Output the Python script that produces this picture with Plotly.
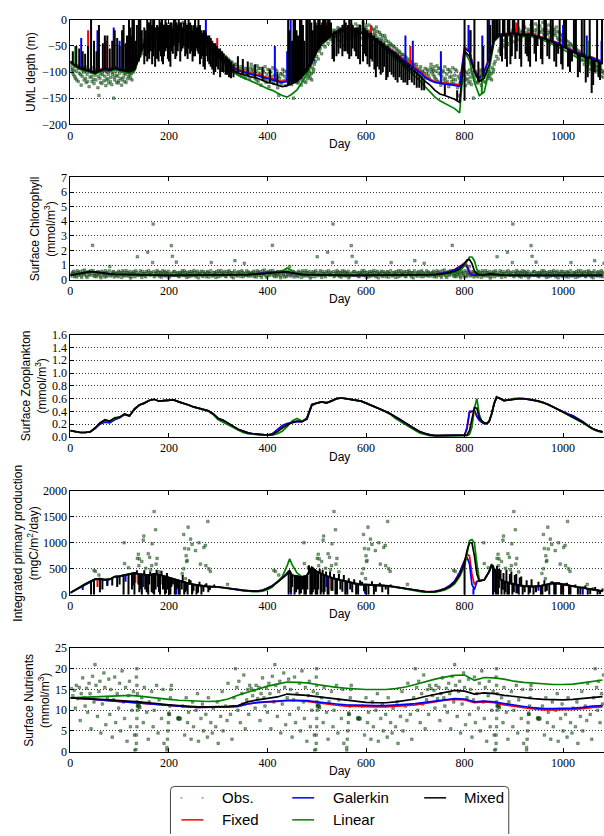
import plotly.graph_objects as go

W, H = 604, 836
DAY_MAX = 1083
AXIS_LEFT_PX = 67.7

# ---------------- Panel 1: upper mixed layer depth (m) ----------------
depth_days = list(range(0, 1081, 10))
depth_mixed = [
    -80, -88, -93, -96, -98, -102, -98, -95, -97, -93,
    -96, -98, -100, -95, -70, -45, -38, -35, -32, -28,
    -25, -22, -20, -22, -25, -28, -32, -38, -48, -58,
    -68, -78, -88, -97, -102, -105, -108, -110, -112, -116,
    -120, -122, -125, -128, -126, -122, -118, -108, -98, -80,
    -60, -45, -38, -30, -25, -20, -18, -20, -22, -25,
    -28, -33, -40, -47, -55, -62, -70, -78, -86, -94,
    -100, -108, -118, -125, -135, -142, -145, -148, -152, -158,
    -60, -70, -100, -118, -112, -85, -40, -30, -30, -28,
    -26, -28, -30, -28, -30, -33, -36, -40, -43, -47,
    -52, -57, -62, -66, -70, -72, -76, -80, -85,
]
depth_galerkin = [
    -80, -88, -92, -95, -97, -100, -96, -94, -95, -91,
    -95, -96, -98, -93, -68, -45, -38, -34, -30, -27,
    -24, -21, -19, -21, -24, -27, -30, -36, -45, -55,
    -65, -74, -84, -92, -97, -100, -103, -105, -107, -110,
    -113, -115, -118, -120, -118, -116, -112, -104, -95, -78,
    -58, -44, -37, -29, -24, -19, -17, -19, -21, -24,
    -27, -31, -37, -44, -51, -58, -65, -72, -80, -88,
    -94, -101, -110, -116, -120, -122, -123, -124, -125, -127,
    -55, -62, -98, -112, -100, -75, -35, -28, -28, -27,
    -25, -27, -29, -27, -29, -32, -35, -38, -41, -45,
    -50, -55, -60, -63, -67, -70, -73, -77, -82,
]
depth_fixed = [
    -79, -87, -91, -94, -96, -99, -95, -93, -94, -90,
    -94, -95, -97, -92, -67, -44, -37, -33, -29, -26,
    -23, -20, -18, -20, -23, -26, -29, -35, -44, -54,
    -63, -72, -82, -90, -95, -98, -101, -103, -105, -108,
    -111, -113, -116, -118, -116, -114, -110, -102, -93, -76,
    -57, -43, -36, -28, -23, -18, -16, -18, -20, -23,
    -26, -30, -36, -43, -50, -57, -64, -71, -79, -86,
    -92, -99, -108, -114, -118, -120, -121, -122, -123, -124,
    -52, -60, -95, -110, -98, -72, -34, -27, -27, -26,
    -24, -26, -28, -26, -28, -31, -34, -37, -40, -44,
    -49, -54, -59, -62, -66, -69, -72, -76, -80,
]
depth_linear = [
    -82, -90, -95, -98, -100, -104, -100, -98, -99, -95,
    -98, -100, -103, -98, -72, -48, -40, -36, -32, -29,
    -26, -23, -21, -23, -27, -30, -34, -40, -50, -60,
    -70, -80, -91, -100, -106, -110, -114, -118, -122, -127,
    -132, -135, -140, -145, -148, -142, -134, -120, -105, -85,
    -62, -47, -40, -31, -26, -21, -19, -21, -23, -26,
    -30, -35, -42, -50, -58, -66, -74, -83, -92, -100,
    -108, -117, -128, -138, -148, -155, -160, -165, -170, -178,
    -62, -78, -120, -145, -138, -95, -42, -32, -31, -30,
    -28, -30, -32, -30, -32, -35, -39, -43, -47, -52,
    -57, -63, -68, -73, -78, -82, -86, -90, -96,
]
# short mixing / restratification events: (day, from depth, to depth)
depth_mixed_spikes = [
    (5, -84, -60), (12, -90, -50), (18, -92, -55), (25, -95, -60), (30, -96, -65),
    (36, -97, -50), (42, -98, 0), (48, -100, -40), (53, -101, -60), (58, -100, -10),
    (66, -96, -45), (70, -95, -30), (75, -96, -30), (80, -96, -55), (85, -95, -40),
    (90, -93, -20), (95, -94, -35), (100, -96, -50), (105, -97, -20), (108, -97, -10),
    (112, -98, -45), (115, -98, -30), (119, -99, 0), (122, -100, -15), (126, -99, 0),
    (129, -97, 0), (132, -95, -40), (135, -85, -10), (139, -80, 0), (142, -72, 0),
    (145, -60, -20), (150, -15, -85), (153, -20, -70), (156, 0, -80), (158, -5, -65),
    (160, -10, -75), (163, 0, -60), (166, -10, -85), (168, 0, -70), (170, 0, -55),
    (172, -15, -90), (176, -10, -75), (179, -15, -80), (181, 0, -60), (184, -5, -70),
    (186, 0, -80), (188, -15, -85), (190, -10, -70), (193, 0, -60), (195, -5, -55),
    (198, -10, -75), (200, -10, -80), (203, -5, -90), (205, -5, -60), (208, -15, -65),
    (210, 0, -50), (213, 0, -75), (215, -5, -70), (218, -10, -60), (220, 0, -45),
    (223, -5, -80), (225, -5, -60), (228, -15, -55), (230, -5, -50), (233, 0, -70),
    (235, -10, -65), (238, -10, -75), (240, 0, -55), (243, -5, -65), (245, -10, -60),
    (248, -20, -80), (250, -10, -70), (253, 0, -70), (255, -15, -55), (258, -15, -60),
    (260, 0, -65), (263, -10, -85), (265, -20, -75), (268, -25, -70), (270, -20, -90),
    (273, -20, -95), (275, -25, -70), (279, -30, -80), (282, -30, -85), (285, -35, -90),
    (288, -40, -95), (291, -45, -105), (294, -45, -100), (297, -50, -90), (300, -55, -95),
    (304, -55, -110), (308, -60, -100), (311, -65, -100), (315, -70, -105), (318, -72, -105),
    (322, -75, -110), (326, -80, -112), (331, -85, -110), (340, -100, -70), (350, -104, -75),
    (360, -107, -80), (375, -111, -85), (390, -115, -90), (405, -120, -95), (420, -125, -100),
    (442, -126, 0), (445, -124, -20), (450, -122, -40), (453, -120, 0), (456, -120, 0),
    (459, -117, -20), (462, -116, -30), (466, -114, 0), (469, -112, 0), (472, -108, -10),
    (475, -104, -40), (479, -100, 0), (482, -95, 0), (486, -90, 0), (489, -85, -5),
    (492, -78, -20), (496, -70, 0), (498, -66, -5), (501, -60, -10), (503, -58, 0),
    (506, -55, 0), (508, -50, -10), (511, -45, -5), (513, -44, 0), (516, -42, 0),
    (518, -40, 0), (521, -38, -10), (523, -36, 0), (526, -35, 0), (529, -30, -5),
    (532, -25, -75), (535, -22, -80), (540, -20, -70), (544, -18, -65), (548, -15, -55),
    (552, -10, -70), (556, 0, -60), (559, -5, -60), (563, -10, -65), (566, 0, -75),
    (570, 0, -70), (573, -10, -55), (577, -15, -60), (580, -15, -70), (584, -15, -75),
    (588, -10, -85), (594, 0, -80), (597, -15, -65), (600, -20, -70), (603, -20, -85),
    (607, -25, -90), (610, -25, -75), (613, -30, -80), (617, -30, -95), (620, -35, -110),
    (623, -35, -90), (627, -40, -95), (630, -40, -105), (634, -45, -100), (637, -45, -90),
    (641, -50, -115), (644, -50, -110), (648, -55, -100), (652, -58, -105), (656, -60, -110),
    (660, -62, -115), (664, -65, -120), (668, -70, -110), (672, -75, -115), (676, -78, -120),
    (680, -80, -120), (684, -82, -125), (688, -85, -115), (693, -90, -120), (698, -95, -125),
    (703, -100, -130), (708, -105, -130), (713, -110, -135), (718, -115, -135), (760, -145, -125),
    (785, -155, -135), (800, -155, 0), (812, -70, -20), (820, -100, 0), (828, -118, -80),
    (838, -110, -50), (847, -80, 0), (852, -65, -10), (857, -45, 0), (860, -40, 0),
    (864, -35, 0), (867, -33, 0), (871, -30, 0), (873, -30, -70), (876, -30, -80),
    (878, -30, 0), (881, -30, 0), (883, -30, -75), (886, -30, -90), (888, -29, 0),
    (891, -28, 0), (893, -28, -85), (896, -28, -70), (898, -27, 0), (901, -26, 0),
    (903, -26, -75), (906, -27, -60), (909, -27, 0), (912, -28, -75), (915, -29, -90),
    (918, -30, 0), (921, -30, 0), (924, -30, -65), (927, -29, -70), (930, -28, -80),
    (933, -28, -90), (935, -28, 0), (938, -29, 0), (942, -30, -65), (945, -31, -80),
    (948, -32, -50), (951, -33, 0), (955, -34, -75), (958, -35, -85), (962, -36, 0),
    (965, -37, 0), (968, -38, -70), (972, -39, -75), (975, -40, 0), (979, -42, 0),
    (982, -44, -80), (986, -45, -90), (990, -47, -65), (993, -48, 0), (996, -49, -85),
    (999, -50, -95), (1002, -52, 0), (1006, -55, 0), (1010, -57, -90), (1014, -59, -100),
    (1018, -61, -80), (1022, -62, 0), (1026, -64, 0), (1030, -66, -110), (1034, -68, -100),
    (1038, -69, 0), (1043, -71, 0), (1046, -71, -120), (1050, -72, -110), (1054, -73, 0),
    (1058, -75, -140), (1061, -77, -125), (1064, -78, -100), (1069, -79, 0), (1072, -80, -110),
    (1075, -82, -115), (1079, -84, 0),
]
depth_galerkin_spikes = [
    (22, -92, -35), (55, -100, -20), (88, -95, -15), (100, -96, -40), (125, -98, -30),
    (160, -40, -5), (275, -40, 0), (415, -118, -50), (440, -120, -60), (447, -118, 0),
    (495, -80, 0), (510, -45, -10), (680, -82, -30), (695, -92, -40), (752, -122, -60),
    (808, -60, -10), (836, -108, -30), (850, -80, 0), (880, -28, 0), (1000, -50, -10),
    (1048, -70, -30), (1078, -82, -40),
]
depth_fixed_spikes = [
    (36, -95, -20), (72, -94, -40), (298, -63, -35), (470, -102, -50), (520, -36, -5),
    (610, -30, -10), (690, -88, -50), (812, -62, -20), (905, -26, -5), (1000, -49, -20),
]
depth_linear_spikes = [
    (10, -90, -50), (480, -105, -30), (1050, -82, -40), (835, -142, -100),
]
# one annual cycle of observed depths; the record repeats each year
depth_obs_year = [
    (2, -85), (4, -95), (6, -105), (8, -90), (10, -112), (12, -98), (14, -88), (16, -118),
    (18, -102), (20, -93), (22, -125), (24, -108), (26, -97), (28, -115), (30, -90), (32, -120),
    (34, -104), (36, -95), (38, -128), (40, -110), (42, -100), (44, -118), (46, -92), (48, -122),
    (50, -106), (52, -115), (54, -98), (56, -130), (58, -145), (60, -112), (62, -103), (64, -122),
    (66, -95), (68, -117), (70, -108), (72, -126), (74, -100), (76, -113), (78, -121), (80, -96),
    (82, -110), (84, -124), (86, -104), (88, -150), (90, -115), (92, -99), (94, -120), (96, -108),
    (98, -117), (100, -102), (102, -112), (104, -125), (106, -97), (108, -110), (110, -118),
    (112, -104), (114, -95), (116, -113), (118, -108), (120, -99), (122, -112), (124, -103),
    (126, -92), (128, -100), (130, -85), (132, -80), (135, -70), (138, -75), (140, -60),
    (142, -55), (145, -65), (148, -48), (150, -40), (152, -52), (155, -35), (158, -45), (160, -30),
    (163, -38), (166, -25), (169, -42), (172, -20), (175, -32), (178, -15), (181, -28), (184, -40),
    (187, -22), (190, -12), (193, -30), (196, -25), (199, -18), (202, -35), (205, -10), (208, -22),
    (211, -28), (214, -8), (217, -18), (220, -30), (223, -12), (226, -24), (229, -5), (232, -20),
    (235, -15), (238, -28), (241, -10), (244, -22), (247, -32), (250, -18), (253, -26), (256, -14),
    (259, -35), (262, -24), (265, -40), (268, -30), (271, -45), (274, -35), (277, -50), (280, -42),
    (283, -55), (286, -48), (289, -60), (292, -52), (295, -68), (298, -58), (301, -72), (304, -63),
    (307, -78), (310, -67), (313, -85), (316, -72), (319, -90), (322, -78), (325, -95), (328, -82),
    (331, -88), (334, -100), (337, -85), (340, -96), (343, -105), (346, -90), (349, -100),
    (352, -110), (355, -93), (358, -104), (361, -98), (364, -112),
    (1, -92), (3, -100), (7, -97), (9, -108), (13, -115), (17, -93), (21, -105), (27, -100),
    (31, -112), (35, -118), (39, -96), (43, -108), (47, -114), (51, -95), (57, -108), (61, -120),
    (65, -105), (69, -98), (73, -115), (77, -104), (81, -118), (85, -101), (89, -110), (93, -106),
    (97, -121), (101, -96), (105, -115), (109, -103), (113, -120), (117, -100), (121, -106),
    (125, -115), (129, -95), (162, -28), (165, -35), (168, -20), (171, -30), (174, -25),
    (177, -38), (180, -18), (183, -24), (186, -33), (189, -20), (192, -15), (195, -28), (198, -38),
    (201, -22), (204, -28), (207, -15), (210, -32), (213, -20), (216, -25), (219, -12), (222, -22),
    (225, -35), (228, -18), (231, -28), (234, -10), (237, -20), (240, -25), (243, -35), (246, -15),
    (249, -28), (252, -20), (255, -30), (258, -22), (261, -38), (264, -28), (267, -36), (270, -42),
    (273, -30), (276, -40), (281, -50), (284, -45), (287, -58), (290, -50), (293, -62), (296, -55),
    (299, -65), (302, -60), (305, -70), (308, -66), (311, -75), (314, -70), (317, -80), (320, -75),
    (323, -86), (326, -80), (329, -92), (332, -85), (335, -96), (338, -90), (341, -100), (344, -95),
    (347, -108), (350, -98), (353, -102), (356, -112), (359, -95), (362, -106),
]

# ---------------- Panel 2: surface chlorophyll ----------------
chl_days = list(range(0, 791, 10)) + [795, 800, 805, 810, 815, 820, 825, 830] + list(range(840, 1081, 10))
chl_mixed = [
    .30, .35, .42, .50, .55, .53, .47, .42, .39, .37,
    .36, .35, .35, .34, .33, .32, .31, .30, .30, .30,
    .30, .30, .30, .30, .30, .30, .30, .30, .30, .30,
    .30, .30, .30, .31, .32, .33, .34, .36, .39, .43,
    .47, .51, .54, .56, .55, .47, .40, .36, .34, .33,
    .32, .31, .31, .30, .30, .30, .30, .30, .30, .30,
    .30, .30, .30, .30, .30, .30, .30, .30, .30, .30,
    .30, .30, .31, .32, .34, .37, .41, .48, .58, .75,
    .90, 1.10, 1.35, 1.38, 1.10, .60, .40, .33,
    .32, .40, .36, .32, .31, .30, .30, .30, .30, .30,
    .30, .30, .30, .30, .30, .30, .30, .30, .30, .30,
    .30, .30, .30, .30, .30,
]
chl_galerkin = [
    .30, .34, .41, .49, .54, .52, .46, .41, .38, .36,
    .35, .34, .34, .33, .32, .31, .30, .30, .29, .29,
    .29, .29, .29, .29, .29, .29, .29, .29, .29, .29,
    .29, .29, .29, .30, .31, .32, .34, .37, .41, .46,
    .50, .54, .56, .55, .50, .42, .37, .34, .33, .32,
    .31, .30, .30, .29, .29, .29, .29, .29, .29, .29,
    .29, .29, .29, .29, .29, .29, .29, .29, .29, .29,
    .29, .30, .31, .33, .36, .40, .46, .55, .68, .88,
    1.00, 1.08, .85, .45, .32, .30, .32, .33,
    .33, .38, .34, .31, .30, .29, .29, .29, .29, .29,
    .29, .29, .29, .29, .29, .29, .29, .29, .29, .29,
    .29, .29, .29, .29, .29,
]
chl_fixed = [
    .30, .34, .41, .49, .54, .52, .46, .41, .38, .36,
    .35, .34, .34, .33, .32, .31, .30, .30, .29, .29,
    .29, .29, .29, .29, .29, .29, .29, .29, .29, .29,
    .29, .29, .29, .30, .31, .32, .34, .37, .41, .46,
    .50, .54, .56, .55, .50, .42, .37, .34, .33, .32,
    .31, .30, .30, .29, .29, .29, .29, .29, .29, .29,
    .29, .29, .29, .29, .29, .29, .29, .29, .29, .29,
    .29, .30, .31, .33, .36, .40, .46, .56, .70, .90,
    1.05, 1.15, 1.00, .55, .35, .30, .32, .33,
    .33, .38, .34, .31, .30, .29, .29, .29, .29, .29,
    .29, .29, .29, .29, .29, .29, .29, .29, .29, .29,
    .29, .29, .29, .29, .29,
]
chl_linear = [
    .30, .35, .42, .50, .56, .54, .48, .42, .39, .37,
    .36, .35, .35, .34, .33, .32, .31, .30, .30, .30,
    .30, .30, .30, .30, .30, .30, .30, .30, .30, .30,
    .30, .30, .30, .30, .31, .32, .33, .34, .36, .39,
    .42, .46, .52, .60, .80, .62, .42, .36, .34, .33,
    .32, .31, .31, .30, .30, .30, .30, .30, .30, .30,
    .30, .30, .30, .30, .30, .30, .30, .30, .30, .30,
    .30, .30, .30, .31, .32, .34, .37, .42, .50, .62,
    .75, .95, 1.30, 1.55, 1.55, 1.30, .70, .38,
    .32, .40, .37, .33, .31, .30, .30, .30, .30, .30,
    .30, .30, .30, .30, .30, .30, .30, .30, .30, .30,
    .30, .30, .30, .30, .30,
]
chl_obs_year = [
    (2, .35), (5, .50), (8, .20), (11, .45), (14, .60), (17, .30), (20, .55), (23, .15), (26, .40),
    (29, .65), (32, .25), (35, .50), (38, .35), (41, .60), (45, 2.35), (47, .30), (50, .45), (53, .20),
    (56, .55), (59, .38), (62, .12), (65, .48), (68, .30), (71, .60), (74, .22), (77, .42), (80, .90),
    (83, .33), (86, .52), (89, .18), (92, .44), (95, .28), (98, .58), (101, .36), (104, .15), (107, .50),
    (110, .30), (113, .62), (116, .25), (119, .45), (122, .10), (125, .40), (128, .55), (131, .20),
    (134, .48), (136, 1.57), (139, .33), (142, .60), (145, .15), (148, .42), (151, .28), (154, .55),
    (157, 1.88), (160, .35), (163, .50), (167, 1.17), (168, 3.81), (170, .20), (173, .45), (176, .62),
    (179, .30), (182, .50), (185, .18), (188, .40), (191, .58), (194, .25), (197, .45), (200, .12),
    (203, .38), (205, 2.33), (207, 1.60), (210, .55), (213, .30), (215, 1.20), (218, .48), (221, .20),
    (224, .42), (227, .60), (230, .28), (233, .50), (236, .15), (239, .38), (242, .55), (245, .25),
    (248, .45), (251, .62), (254, .30), (257, .48), (260, .12), (263, .40), (266, .58), (269, .22),
    (272, .45), (275, .32), (278, .55), (281, .18), (284, .40), (286, 1.17), (289, .30), (292, .50),
    (295, .15), (298, .42), (301, .60), (304, .25), (307, .45), (310, .35), (313, .55), (316, .20),
    (319, .40), (322, .60), (325, .30), (328, .48), (331, .12), (334, 1.30), (336, .42), (339, .25),
    (342, .55), (345, .35), (348, .60), (351, .20), (353, 1.12), (356, .45), (359, .30), (362, .52),
    (364, .38),
    (1, .25), (4, .42), (7, .58), (10, .30), (13, .18), (16, .50), (19, .40), (22, .28), (25, .60),
    (28, .35), (31, .48), (34, .15), (37, .55), (40, .30), (43, .45), (46, .62), (49, .22), (52, .40),
    (55, .32), (58, .50), (61, .25), (64, .58), (67, .40), (70, .18), (73, .50), (76, .32), (79, .60),
    (82, .25), (85, .40), (88, .55), (91, .30), (94, .45), (97, .20), (100, .50), (103, .38),
    (106, .60), (109, .25), (112, .42), (115, .50), (118, .30), (121, .56), (124, .20), (127, .45),
    (130, .35), (133, .60), (137, .28), (141, .45), (144, .30), (147, .55), (150, .38), (153, .20),
    (156, .45), (159, .60), (162, .30), (165, .42), (169, .55), (172, .28), (175, .40), (178, .52),
    (181, .22), (184, .45), (187, .60), (190, .30), (193, .50), (196, .38), (199, .58), (202, .25),
    (206, .45), (209, .30), (212, .55), (216, .40), (219, .25), (222, .50), (225, .35), (228, .45),
    (231, .60), (234, .30), (237, .50), (240, .20), (243, .42), (246, .55), (249, .30), (252, .48),
    (255, .20), (258, .58), (261, .35), (264, .45), (267, .28), (270, .55), (273, .38), (276, .20),
    (279, .50), (282, .40), (285, .60), (288, .25), (291, .45), (294, .35), (297, .55), (300, .20),
    (303, .42), (306, .60), (309, .30), (312, .45), (315, .25), (318, .55), (321, .38), (324, .50),
    (327, .20), (330, .45), (333, .60), (337, .30), (340, .50), (343, .38), (346, .22), (349, .50),
    (352, .42), (355, .30), (358, .60), (361, .25), (363, .45),
]

# ---------------- Panel 3: surface zooplankton ----------------
zoo_days = list(range(0, 801, 10)) + [805, 810, 815, 820, 825, 830, 835, 840, 845, 850, 855, 860, 865, 870] + list(range(880, 1081, 10))
zoo_mixed = [
    .10, .08, .07, .07, .08, .14, .22, .27, .25, .30,
    .31, .36, .33, .44, .50, .53, .57, .59, .56, .57,
    .57, .58, .55, .53, .50, .47, .45, .43, .41, .36,
    .29, .26, .22, .17, .12, .09, .06, .05, .04, .035,
    .03, .04, .08, .14, .19, .23, .25, .24, .28, .50,
    .53, .55, .53, .56, .60, .61, .60, .59, .58, .56,
    .53, .50, .46, .43, .40, .36, .31, .26, .21, .16,
    .12, .08, .05, .03, .02, .02, .02, .02, .02, .02,
    .02,
    .03, .10, .30, .46, .45, .30, .25, .22, .21, .25, .36, .52, .62, .61,
    .57, .58, .60, .60, .60, .59, .58, .56, .54, .51,
    .47, .43, .39, .35, .32, .28, .23, .18, .13, .10, .08,
]
zoo_galerkin = [
    .10, .08, .07, .07, .08, .13, .20, .23, .22, .27,
    .30, .35, .33, .43, .50, .53, .57, .59, .56, .57,
    .57, .58, .55, .53, .50, .47, .45, .43, .41, .36,
    .29, .26, .22, .17, .12, .09, .07, .05, .04, .035,
    .03, .05, .12, .18, .21, .23, .24, .24, .30, .51,
    .53, .55, .54, .56, .60, .61, .60, .59, .58, .56,
    .53, .50, .46, .43, .40, .36, .32, .27, .22, .17,
    .12, .08, .05, .03, .02, .02, .02, .02, .02, .02,
    .03,
    .15, .40, .40, .41, .32, .26, .23, .21, .21, .24, .36, .52, .62, .61,
    .57, .58, .60, .60, .60, .59, .58, .56, .54, .51,
    .47, .43, .39, .36, .33, .29, .24, .18, .13, .10, .08,
]
zoo_fixed = [
    .10, .08, .07, .07, .08, .13, .21, .24, .23, .28,
    .30, .35, .33, .43, .50, .53, .57, .59, .56, .57,
    .57, .58, .55, .53, .50, .47, .45, .43, .41, .36,
    .29, .26, .22, .17, .12, .09, .07, .05, .04, .035,
    .03, .05, .11, .17, .21, .23, .24, .24, .29, .51,
    .53, .55, .54, .56, .60, .61, .60, .59, .58, .56,
    .53, .50, .46, .43, .40, .36, .32, .27, .22, .17,
    .12, .08, .05, .03, .02, .02, .02, .02, .02, .02,
    .03,
    .12, .38, .40, .42, .33, .27, .23, .21, .21, .24, .36, .52, .62, .61,
    .57, .58, .60, .60, .60, .59, .58, .56, .54, .51,
    .47, .43, .39, .36, .33, .29, .24, .18, .13, .10, .08,
]
zoo_linear = [
    .10, .08, .07, .07, .08, .14, .22, .26, .24, .29,
    .31, .36, .33, .44, .50, .53, .57, .59, .56, .57,
    .57, .58, .55, .53, .50, .47, .45, .43, .40, .35,
    .27, .23, .19, .14, .10, .07, .05, .04, .03, .03,
    .03, .03, .05, .09, .16, .25, .29, .25, .28, .49,
    .53, .55, .53, .56, .60, .61, .60, .59, .58, .56,
    .53, .50, .46, .43, .39, .35, .29, .24, .19, .14,
    .10, .06, .04, .02, .02, .02, .02, .02, .02, .02,
    .02,
    .02, .04, .15, .45, .60, .35, .25, .22, .21, .25, .37, .53, .63, .61,
    .57, .58, .60, .60, .60, .59, .58, .56, .54, .51,
    .47, .43, .39, .35, .31, .27, .22, .17, .12, .09, .07,
]

# ---------------- Panel 4: integrated primary production ----------------
prod_days = (list(range(0, 441, 10)) + [445] + list(range(450, 801, 10))
             + [805, 810, 815, 820, 825, 830, 840, 850, 855, 860] + list(range(870, 1081, 10)))
prod_mixed = [
    40, 90, 150, 210, 260, 300, 310, 290, 300, 350,
    360, 380, 390, 420, 400, 390, 380, 400, 390, 360,
    330, 300, 270, 250, 220, 200, 180, 170, 160, 160,
    150, 140, 130, 115, 100, 85, 75, 70, 70, 85,
    120, 170, 240, 320, 420,
    470,
    380, 360, 340, 370, 530, 450, 400, 360, 330, 300,
    280, 260, 230, 210, 200, 200, 190, 185, 185, 175,
    165, 150, 135, 120, 100, 85, 70, 60, 55, 60,
    80, 110, 160, 240, 380, 620,
    850, 1000, 1000, 750, 400, 260, 290, 450, 580, 480,
    320, 260, 230, 200, 185, 170, 160, 160, 165, 185,
    200, 225, 220, 200, 185, 170, 150, 135, 120, 110, 90, 70,
]
prod_galerkin = [
    40, 90, 150, 205, 255, 295, 300, 280, 295, 345,
    355, 375, 385, 410, 395, 385, 375, 395, 385, 355,
    325, 295, 265, 245, 215, 195, 175, 165, 155, 155,
    145, 135, 125, 110, 95, 80, 72, 68, 70, 88,
    125, 175, 245, 320, 400,
    430,
    370, 350, 335, 365, 510, 440, 395, 355, 325, 295,
    275, 255, 225, 205, 195, 195, 185, 180, 180, 170,
    160, 145, 130, 115, 98, 83, 70, 62, 58, 65,
    88, 120, 175, 260, 420, 650,
    720, 600, 200, 100, 250, 270, 285, 440, 560, 470,
    310, 255, 225, 195, 180, 165, 155, 155, 160, 180,
    195, 220, 215, 195, 180, 165, 145, 130, 115, 105, 85, 65,
]
prod_fixed = [
    40, 90, 150, 205, 255, 295, 305, 285, 295, 345,
    355, 375, 385, 415, 395, 385, 375, 395, 385, 355,
    325, 295, 265, 245, 215, 195, 175, 165, 155, 155,
    145, 135, 125, 110, 96, 82, 73, 69, 71, 89,
    126, 176, 245, 318, 405,
    440,
    372, 352, 336, 366, 512, 442, 396, 356, 326, 296,
    276, 256, 226, 206, 196, 196, 186, 181, 181, 171,
    161, 146, 131, 116, 99, 84, 71, 63, 59, 66,
    90, 122, 178, 265, 430, 680,
    780, 750, 400, 200, 260, 270, 285, 445, 565, 470,
    312, 256, 226, 196, 181, 166, 156, 156, 161, 181,
    196, 221, 216, 196, 181, 166, 146, 131, 116, 106, 86, 66,
]
prod_linear = [
    40, 90, 150, 210, 260, 300, 310, 290, 300, 350,
    360, 380, 390, 420, 400, 390, 380, 400, 390, 360,
    330, 300, 270, 250, 220, 200, 180, 170, 160, 160,
    150, 140, 125, 110, 92, 78, 66, 60, 58, 70,
    100, 150, 250, 350, 560,
    690,
    580, 420, 350, 370, 530, 450, 400, 360, 330, 300,
    280, 260, 230, 210, 200, 200, 190, 185, 185, 175,
    165, 150, 132, 115, 95, 78, 62, 52, 48, 52,
    70, 95, 140, 210, 350, 550,
    780, 1040, 1060, 1000, 600, 280, 290, 450, 590, 490,
    320, 260, 230, 200, 185, 170, 160, 160, 165, 185,
    200, 225, 220, 200, 185, 170, 150, 135, 120, 110, 90, 70,
]
prod_mixed_spikes = [
    (42, 270, 0), (48, 290, 0), (60, 310, 50), (65, 300, 100), (75, 295, 180),
    (85, 320, 180), (95, 350, 150), (100, 360, 200), (108, 370, 0), (118, 390, 0),
    (125, 410, 100), (130, 420, 0), (135, 420, 470), (138, 410, 200), (140, 400, 50),
    (143, 400, 100), (145, 395, 0), (150, 390, 470), (152, 390, 100), (155, 385, 50),
    (158, 385, 0), (160, 380, 200), (162, 380, 450), (165, 385, 50), (168, 390, 30),
    (170, 400, 0), (173, 400, 100), (175, 400, 480), (178, 400, 150), (180, 395, 50),
    (182, 390, 0), (185, 380, 460), (187, 378, 200), (188, 375, 100), (192, 355, 0),
    (194, 350, 30), (196, 345, 420), (198, 335, 100), (200, 330, 0), (203, 320, 0),
    (205, 315, 150), (208, 305, 200), (212, 295, 0), (215, 290, 100), (217, 285, 120),
    (220, 275, 0), (222, 270, 0), (226, 262, 100), (228, 258, 380), (231, 255, 0),
    (233, 250, 50), (236, 240, 80), (238, 230, 0), (241, 225, 300), (244, 215, 280),
    (247, 205, 0), (250, 200, 80), (253, 195, 200), (256, 190, 0), (259, 185, 40),
    (262, 180, 250), (266, 175, 0), (270, 170, 60), (273, 168, 200), (276, 165, 220),
    (280, 162, 50), (283, 160, 90), (292, 158, 200),
    (443, 460, 0), (447, 420, 50), (450, 380, 150), (455, 375, 0), (458, 370, 50),
    (462, 365, 100), (465, 355, 0), (468, 350, 30), (472, 345, 100), (475, 345, 0),
    (478, 360, 0), (481, 365, 100), (484, 450, 570), (487, 500, 0), (490, 520, 0),
    (492, 520, 50), (495, 490, 100), (498, 460, 0), (501, 450, 0), (503, 440, 100),
    (506, 430, 500), (508, 420, 0), (510, 410, 50), (512, 400, 480), (514, 395, 0),
    (516, 385, 60), (519, 365, 450), (522, 355, 0), (524, 350, 0), (527, 340, 450),
    (530, 330, 80), (532, 320, 80), (535, 310, 400), (538, 305, 0), (541, 300, 0),
    (545, 290, 400), (548, 285, 100), (552, 278, 60), (555, 270, 380), (558, 265, 0),
    (562, 250, 0), (565, 245, 320), (568, 235, 100), (572, 225, 50), (576, 218, 300),
    (580, 210, 0), (584, 205, 0), (588, 200, 280), (592, 200, 250), (596, 200, 70),
    (600, 200, 0), (605, 195, 0), (608, 192, 200), (612, 190, 260), (616, 188, 0),
    (620, 185, 60), (624, 185, 180), (628, 185, 230), (633, 183, 50), (640, 175, 100),
    (645, 170, 0), (650, 165, 200),
    (800, 620, 0), (858, 570, 0), (862, 500, 50), (864, 440, 0), (866, 400, 560),
    (868, 350, 0), (870, 330, 500), (873, 320, 480), (875, 300, 0), (877, 290, 100),
    (879, 275, 420), (881, 260, 0), (883, 255, 50), (885, 250, 480), (887, 245, 0),
    (890, 230, 0), (892, 225, 400), (895, 215, 450), (897, 210, 0), (900, 200, 50),
    (902, 200, 380), (905, 195, 400), (907, 190, 30), (910, 185, 0), (912, 182, 330),
    (915, 178, 350), (918, 172, 0), (922, 168, 50), (926, 165, 280), (930, 160, 0),
    (933, 160, 40), (936, 160, 300), (940, 160, 0), (945, 162, 50), (950, 165, 250),
    (955, 168, 0), (958, 175, 0), (962, 190, 280), (964, 192, 60), (967, 195, 80),
    (972, 205, 0), (975, 210, 250), (978, 222, 260), (982, 224, 0), (985, 224, 0),
    (988, 220, 230), (992, 215, 240), (996, 205, 0), (1000, 200, 0), (1004, 195, 220),
    (1008, 190, 230), (1012, 182, 0), (1015, 178, 0), (1020, 172, 180), (1025, 165, 200),
    (1030, 158, 0), (1035, 150, 0), (1040, 140, 160), (1045, 132, 180), (1050, 125, 0),
    (1055, 120, 10), (1060, 115, 140), (1065, 110, 150), (1070, 100, 0), (1075, 90, 10),
    (1080, 70, 120),
]
prod_galerkin_spikes = [
    (25, 170, 90), (75, 290, 170), (112, 375, 250), (128, 405, 180), (148, 385, 150),
    (190, 355, 120), (215, 290, 0), (448, 400, 0), (472, 335, 130), (520, 355, 150),
    (560, 255, 60), (598, 195, 20), (818, 120, 0), (858, 555, 0), (870, 310, 130),
    (905, 195, 30), (950, 160, 80), (1040, 130, 0),
]
prod_fixed_spikes = [
    (55, 300, 150), (132, 415, 230), (248, 200, 40), (490, 515, 120), (530, 330, 110),
    (880, 255, 90), (1000, 195, 60),
]
prod_obs_year = [
    (48, 470), (51, 450), (58, 380), (109, 1000), (110, 600), (118, 520), (136, 700), (138, 780),
    (139, 560), (140, 690), (145, 640), (148, 1050), (149, 1130), (153, 510), (158, 790), (161, 720),
    (163, 480), (165, 560), (166, 980), (170, 1600), (173, 1250), (174, 590), (176, 700), (180, 440),
    (227, 410), (230, 500), (230, 1160), (232, 890), (234, 310), (235, 750), (236, 640), (237, 660),
    (239, 1300), (240, 880), (244, 1070), (247, 970), (254, 850), (261, 1000), (264, 590), (271, 910),
    (274, 950), (275, 560), (279, 1410), (281, 500), (284, 450), (319, 200),
]

# ---------------- Panel 5: surface nutrients ----------------
nutr_days = list(range(0, 1081, 20))
nutr_linear = [
    13.0, 13.1, 13.3, 13.3, 13.4, 13.6, 13.6, 13.4, 13.1, 12.9,
    12.6, 12.4, 12.3, 12.2, 12.1, 12.2, 12.7, 13.6, 14.3, 15.0,
    15.8, 16.3, 16.8, 16.7, 16.6, 16.2, 15.8, 15.5, 15.3, 15.1,
    15.0, 15.0, 15.0, 15.2, 15.6, 16.2, 16.9, 17.5, 18.0, 18.4,
    18.5, 17.2, 17.9, 17.8, 17.5, 17.0, 16.7, 16.5, 16.3, 16.2,
    16.2, 16.3, 16.6, 17.0, 17.3,
]
nutr_mixed = [
    13.0, 12.9, 12.8, 12.6, 12.5, 12.3, 12.2, 12.0, 11.8, 11.5,
    11.3, 11.1, 10.9, 10.8, 10.8, 10.8, 10.9, 11.1, 12.0, 12.5,
    12.8, 13.2, 13.9, 13.8, 13.6, 13.3, 13.0, 12.7, 12.4, 12.1,
    11.9, 11.8, 11.8, 12.0, 12.3, 12.7, 13.3, 13.8, 14.2, 14.8,
    14.6, 13.9, 14.2, 14.0, 13.6, 13.3, 13.0, 12.8, 12.6, 12.5,
    12.5, 12.6, 12.8, 13.1, 13.3,
]
nutr_galerkin = [
    13.0, 12.9, 12.7, 12.5, 12.3, 12.1, 12.0, 11.8, 11.6, 11.4,
    11.2, 11.0, 10.8, 10.7, 10.7, 10.7, 10.8, 10.9, 11.5, 11.9,
    12.0, 12.2, 12.4, 12.4, 12.3, 12.0, 11.7, 11.5, 11.3, 11.2,
    11.2, 11.1, 11.1, 11.2, 11.4, 11.6, 11.9, 12.3, 12.6, 12.8,
    12.7, 12.0, 12.2, 12.0, 11.6, 11.2, 10.9, 10.6, 10.4, 10.4,
    10.4, 10.5, 10.7, 11.0, 11.1,
]
nutr_fixed = [
    13.0, 12.9, 12.7, 12.5, 12.3, 12.1, 12.0, 11.8, 11.6, 11.4,
    11.2, 11.0, 10.8, 10.7, 10.7, 10.7, 10.8, 10.9, 11.5, 11.8,
    11.9, 12.1, 12.3, 12.3, 12.1, 11.8, 11.4, 11.2, 11.0, 10.9,
    10.9, 10.8, 10.8, 10.9, 11.1, 11.3, 11.6, 12.0, 12.4, 12.6,
    12.5, 11.8, 12.0, 11.8, 11.3, 10.9, 10.6, 10.3, 10.1, 10.1,
    10.1, 10.2, 10.4, 10.7, 10.8,
]
nutr_obs_year = [
    (2, 15.2), (5, 13.5), (8, 14.8), (10, 10.5), (12, 16.0), (15, 12.8), (18, 15.5), (20, 7.5),
    (22, 14.0), (25, 17.8), (28, 13.0), (30, 11.0), (33, 15.3), (35, 9.5), (38, 16.5), (40, 14.0),
    (42, 5.5), (45, 18.2), (48, 12.0), (50, 21.0), (52, 16.0), (55, 8.5), (58, 14.5), (60, 17.0),
    (62, 4.5), (65, 11.5), (68, 19.0), (70, 15.5), (72, 6.5), (75, 13.0), (78, 17.5), (80, 9.0),
    (82, 15.0), (85, 3.5), (88, 12.5), (90, 18.0), (92, 7.0), (95, 14.0), (98, 10.5), (100, 16.5),
    (102, 5.0), (105, 19.5), (108, 12.0), (110, 8.0), (112, 15.5), (115, 2.5), (118, 13.5),
    (120, 17.0), (122, 6.0), (125, 10.0), (128, 14.5), (130, 4.0), (131, 0.3), (133, 0.5),
    (134, 2.0), (134, 4.0), (135, 6.0), (135, 8.0), (136, 10.0), (135, 12.0), (136, 14.0),
    (135, 16.0), (134, 18.0), (135, 20.0), (136, 11.0), (137, 11.2), (138, 10.8), (139, 11.3),
    (140, 11.0), (141, 10.6), (145, 13.0), (148, 7.0), (150, 15.5), (155, 9.5), (158, 3.0),
    (160, 12.0), (165, 14.5), (168, 6.0), (170, 10.0), (175, 16.0), (178, 4.5), (180, 12.5),
    (185, 8.0), (188, 15.0), (190, 2.0), (196, 0.3), (196, 1.0), (197, 3.0), (198, 5.0), (199, 7.0),
    (200, 9.0), (200, 9.3), (201, 9.0), (202, 11.0), (203, 13.0), (204, 15.0), (205, 16.0),
    (218, 8.0), (219, 8.2), (220, 7.8), (221, 8.0), (222, 8.1), (223, 7.9), (228, 11.0), (232, 4.0),
    (235, 13.0), (238, 7.0), (240, 9.5), (245, 3.0), (248, 12.0), (250, 6.0), (255, 10.0),
    (258, 14.0), (260, 2.5), (265, 8.0), (268, 11.5), (270, 5.0), (275, 9.0), (278, 3.5),
    (280, 13.0), (285, 7.0), (288, 4.5), (290, 10.5), (295, 6.0), (298, 12.0), (300, 2.0),
    (305, 8.5), (308, 14.5), (310, 5.0), (315, 11.0), (318, 7.5), (320, 16.5), (325, 9.0),
    (328, 3.0), (332, 13.0), (335, 20.0), (338, 15.5), (340, 10.0), (342, 17.0), (345, 7.0),
    (348, 14.0), (350, 11.5), (352, 18.5), (355, 5.5), (358, 12.5), (360, 15.0), (362, 9.0),
    (364, 16.0),
]

YEAR = 365
SERIES_COLORS = {"Fixed": "#ff0000", "Galerkin": "#0000ff", "Linear": "#008000", "Mixed": "#000000"}
TICK_FONT = dict(family="Liberation Serif, Times New Roman, serif", size=12, color="black")
LABEL_FONT = dict(family="Liberation Sans, Arial, sans-serif", size=12, color="black")

# panel pixel boxes (top, bottom) and axis setup
panels = [
    dict(top=13.0, bottom=119.3, yrange=[-200, 0], dtick=50, fmt="",
         title="UML depth (m)", title_x=28),
    dict(top=173.3, bottom=277.3, yrange=[0, 7], dtick=1, fmt="",
         title="Surface Chlorophyll<br>(mmol/m<sup>3</sup>)", title_x=40),
    dict(top=333.3, bottom=437.3, yrange=[0, 1.6], dtick=0.2, fmt=".1f",
         title="Surface Zooplankton<br>(mmol/m<sup>3</sup>)", title_x=31.5),
    dict(top=492.0, bottom=597.8, yrange=[0, 2000], dtick=500, fmt="",
         title="Integrated primary production<br>(mgC/m<sup>2</sup>/day)", title_x=23),
    dict(top=652.0, bottom=757.3, yrange=[0, 25], dtick=5, fmt="",
         title="Surface Nutrients<br>(mmol/m<sup>3</sup>)", title_x=34),
]


def fx(p):
    return p / W


def fy(p):
    return 1 - p / H


def repeat_years(pairs):
    xs, ys = [], []
    for k in range(3):
        for d, v in pairs:
            if d + k * YEAR <= DAY_MAX:
                xs.append(d + k * YEAR)
                ys.append(v)
    return xs, ys


def spike_xy(spikes):
    xs, ys = [], []
    for d, a, b in spikes:
        xs += [d, d, None]
        ys += [a, b, None]
    return xs, ys


fig = go.Figure()


def add_obs(idx, pairs):
    xs, ys = repeat_years(pairs)
    fig.add_trace(go.Scatter(
        x=xs, y=ys, mode="markers", xaxis=f"x{idx}", yaxis=f"y{idx}", showlegend=False,
        marker=dict(symbol="square", size=2.6, color="rgba(40,110,40,0.6)",
                    line=dict(width=0.5, color="rgba(0,45,0,0.7)")),
    ))


def add_line(idx, days, vals, name, spikes=None, width=1.7):
    color = SERIES_COLORS[name]
    assert len(days) == len(vals), name
    fig.add_trace(go.Scatter(
        x=days, y=vals, mode="lines", xaxis=f"x{idx}", yaxis=f"y{idx}", showlegend=False,
        line=dict(color=color, width=width),
    ))
    if spikes:
        sx, sy = spike_xy(spikes)
        fig.add_trace(go.Scatter(
            x=sx, y=sy, mode="lines", xaxis=f"x{idx}", yaxis=f"y{idx}", showlegend=False,
            line=dict(color=color, width=2.0),
        ))


# Panel 1
add_obs(1, depth_obs_year)
add_line(1, depth_days, depth_fixed, "Fixed", depth_fixed_spikes)
add_line(1, depth_days, depth_galerkin, "Galerkin", depth_galerkin_spikes)
add_line(1, depth_days, depth_linear, "Linear", depth_linear_spikes)
add_line(1, depth_days, depth_mixed, "Mixed", depth_mixed_spikes)
# Panel 2
add_obs(2, chl_obs_year)
add_line(2, chl_days, chl_fixed, "Fixed")
add_line(2, chl_days, chl_galerkin, "Galerkin")
add_line(2, chl_days, chl_linear, "Linear")
add_line(2, chl_days, chl_mixed, "Mixed")
# Panel 3
add_line(3, zoo_days, zoo_fixed, "Fixed")
add_line(3, zoo_days, zoo_galerkin, "Galerkin")
add_line(3, zoo_days, zoo_linear, "Linear")
add_line(3, zoo_days, zoo_mixed, "Mixed")
# Panel 4
add_obs(4, prod_obs_year)
add_line(4, prod_days, prod_fixed, "Fixed", prod_fixed_spikes)
add_line(4, prod_days, prod_galerkin, "Galerkin", prod_galerkin_spikes)
add_line(4, prod_days, prod_linear, "Linear")
add_line(4, prod_days, prod_mixed, "Mixed", prod_mixed_spikes)
# Panel 5
add_obs(5, nutr_obs_year)
add_line(5, nutr_days, nutr_fixed, "Fixed")
add_line(5, nutr_days, nutr_galerkin, "Galerkin")
add_line(5, nutr_days, nutr_linear, "Linear")
add_line(5, nutr_days, nutr_mixed, "Mixed")

layout = dict(
    width=W, height=H, margin=dict(l=0, r=0, t=0, b=0),
    paper_bgcolor="white", plot_bgcolor="white", showlegend=False,
)
annotations = []
shapes = []
for i, p in enumerate(panels, start=1):
    layout[f"xaxis{i}"] = dict(
        domain=[fx(AXIS_LEFT_PX), 1.0], anchor=f"y{i}", range=[0, DAY_MAX],
        tickmode="array", tickvals=[0, 200, 400, 600, 800, 1000],
        ticks="inside", ticklen=4, tickcolor="black", tickwidth=1,
        showline=True, linecolor="black", linewidth=1, mirror="ticks",
        showgrid=False, zeroline=False, tickfont=TICK_FONT,
    )
    layout[f"yaxis{i}"] = dict(
        domain=[fy(p["bottom"]), fy(p["top"])], anchor=f"x{i}", range=p["yrange"],
        dtick=p["dtick"], tick0=p["yrange"][0], tickformat=p["fmt"],
        ticks="inside", ticklen=4, tickcolor="black", tickwidth=1,
        showline=True, linecolor="black", linewidth=1, mirror=False,
        showgrid=True, gridcolor="#333333", griddash="1px,2px", gridwidth=0.7,
        zeroline=False, tickfont=TICK_FONT,
    )
    mid = (p["top"] + p["bottom"]) / 2
    annotations.append(dict(
        text=p["title"], x=fx(p["title_x"]), y=fy(mid), xref="paper", yref="paper",
        textangle=-90, showarrow=False, xanchor="center", yanchor="middle",
        font=LABEL_FONT,
    ))
    annotations.append(dict(
        text="Day", x=fx(338), y=fy(p["bottom"] + 20), xref="paper", yref="paper",
        showarrow=False, xanchor="center", yanchor="middle", font=LABEL_FONT,
    ))

# legend frame and entries
LEG_L, LEG_R, LEG_T, R = 168.3, 508.3, 792.7, 4.0
shapes.append(dict(
    type="path", xref="paper", yref="paper",
    path=(f"M {fx(LEG_L)},{fy(H + 5)} L {fx(LEG_L)},{fy(LEG_T + R)} "
          f"Q {fx(LEG_L)},{fy(LEG_T)} {fx(LEG_L + R)},{fy(LEG_T)} "
          f"L {fx(LEG_R - R)},{fy(LEG_T)} Q {fx(LEG_R)},{fy(LEG_T)} {fx(LEG_R)},{fy(LEG_T + R)} "
          f"L {fx(LEG_R)},{fy(H + 5)}"),
    line=dict(color="#444444", width=1), fillcolor="rgba(0,0,0,0)",
))
legend_entries = [
    ("Obs.", None, 179.3, 218.3, 804.3),
    ("Fixed", "Fixed", 179.3, 218.3, 826.7),
    ("Galerkin", "Galerkin", 290.7, 330.0, 804.3),
    ("Linear", "Linear", 290.7, 330.0, 826.7),
    ("Mixed", "Mixed", 423.3, 461.7, 804.3),
]
LEG_FONT = dict(family="Liberation Sans, Arial, sans-serif", size=15, color="black")
for label, key, x0, xt, yc in legend_entries:
    if key is None:
        for xd in (x0, x0 + 21.4):
            shapes.append(dict(type="rect", xref="paper", yref="paper",
                               x0=fx(xd - 1), x1=fx(xd + 1), y0=fy(yc + 1), y1=fy(yc - 1),
                               line=dict(width=0), fillcolor="rgba(40,140,40,0.5)"))
    else:
        shapes.append(dict(type="line", xref="paper", yref="paper",
                           x0=fx(x0), x1=fx(x0 + 22), y0=fy(yc), y1=fy(yc),
                           line=dict(color=SERIES_COLORS[key], width=1.5)))
    annotations.append(dict(text=label, x=fx(xt), y=fy(yc), xref="paper", yref="paper",
                            showarrow=False, xanchor="left", yanchor="middle", font=LEG_FONT))

layout["annotations"] = annotations
layout["shapes"] = shapes
fig.update_layout(**layout)
fig.write_html("out.html")
